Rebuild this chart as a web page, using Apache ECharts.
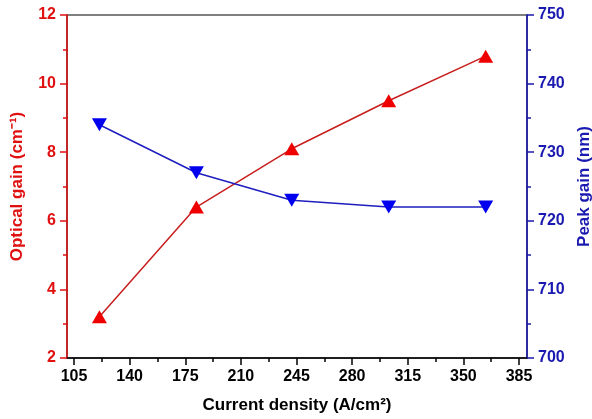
<!DOCTYPE html>
<html>
<head>
<meta charset="utf-8">
<script src="https://cdn.jsdelivr.net/npm/echarts@6/dist/echarts.min.js"></script>
<style>
  html, body { margin: 0; padding: 0; background: #fff; }
  #chart { width: 592px; height: 419px; }
</style>
</head>
<body>
<div id="chart"></div>
<script>
const currentDensity = [121, 182, 242, 303, 364];
const opticalGain = [3.2, 6.4, 8.1, 9.5, 10.8];
const peakGain = [734, 727, 723, 722, 722];
const xTicks = [105, 140, 175, 210, 245, 280, 315, 350, 385];
const xMinorTicks = [122.5, 157.5, 192.5, 227.5, 262.5, 297.5, 332.5, 367.5];

const chart = echarts.init(document.getElementById('chart'));
const font = 'Arial, "Liberation Sans", sans-serif';
const red = '#e01010';
const blue = '#1a1ab0';

const option = {
  animation: false,
  grid: {
    left: 67,
    right: 65,
    top: 15,
    bottom: 61,
    containLabel: false,
    outerBoundsMode: 'none',
    show: true,
    borderColor: '#000',
    borderWidth: 1.2
  },
  xAxis: [
    {
      type: 'value',
      min: 100.6,
      max: 390,
      name: 'Current density (A/cm²)',
      nameLocation: 'middle',
      nameGap: 39,
      nameTextStyle: { color: '#000', fontWeight: 'bold', fontSize: 17, fontFamily: font },
      axisLine: { lineStyle: { color: '#000', width: 1.5 } },
      axisTick: { customValues: xTicks, length: 7, lineStyle: { color: '#000', width: 1.5 } },
      axisLabel: { customValues: xTicks, margin: 11, color: '#000', fontWeight: 'bold', fontSize: 16, fontFamily: font },
      splitLine: { show: false }
    },
    {
      type: 'value',
      min: 100.6,
      max: 390,
      position: 'bottom',
      axisLine: { show: false },
      axisTick: { customValues: xMinorTicks, length: 4, lineStyle: { color: '#000', width: 1.5 } },
      axisLabel: { show: false },
      splitLine: { show: false }
    }
  ],
  yAxis: [
    {
      type: 'value',
      min: 2,
      max: 12,
      interval: 2,
      position: 'left',
      name: 'Optical gain (cm⁻¹)',
      nameLocation: 'middle',
      nameGap: 41,
      nameTextStyle: { color: red, fontWeight: 'bold', fontSize: 17, fontFamily: font },
      axisLine: { show: true, lineStyle: { color: red, width: 1.5 } },
      axisTick: { show: true, length: 7, lineStyle: { color: red, width: 1.5 } },
      minorTick: { show: true, splitNumber: 2, length: 4, lineStyle: { color: red, width: 1.5 } },
      axisLabel: { margin: 11, color: red, fontWeight: 'bold', fontSize: 16, fontFamily: font },
      splitLine: { show: false }
    },
    {
      type: 'value',
      min: 700,
      max: 750,
      interval: 10,
      position: 'right',
      name: 'Peak gain (nm)',
      nameLocation: 'middle',
      nameGap: 47,
      nameRotate: 90,
      nameTextStyle: { color: blue, fontWeight: 'bold', fontSize: 17, fontFamily: font },
      axisLine: { show: true, lineStyle: { color: blue, width: 1.5 } },
      axisTick: { show: true, length: 7, lineStyle: { color: blue, width: 1.5 } },
      minorTick: { show: true, splitNumber: 2, length: 4, lineStyle: { color: blue, width: 1.5 } },
      axisLabel: { margin: 11, color: blue, fontWeight: 'bold', fontSize: 16, fontFamily: font },
      splitLine: { show: false }
    }
  ],
  series: [
    {
      name: 'Optical gain',
      type: 'line',
      xAxisIndex: 0,
      yAxisIndex: 0,
      data: currentDensity.map((x, i) => [x, opticalGain[i]]),
      symbol: 'triangle',
      symbolSize: [15, 13],
      itemStyle: { color: '#ee0000' },
      lineStyle: { color: '#c81e1e', width: 1.5 }
    },
    {
      name: 'Peak gain',
      type: 'line',
      xAxisIndex: 0,
      yAxisIndex: 1,
      data: currentDensity.map((x, i) => [x, peakGain[i]]),
      symbol: 'triangle',
      symbolRotate: 180,
      symbolSize: [15, 13],
      itemStyle: { color: '#0000ee' },
      lineStyle: { color: '#1e1ec0', width: 1.5 }
    }
  ]
};

chart.setOption(option);
</script>
</body>
</html>
